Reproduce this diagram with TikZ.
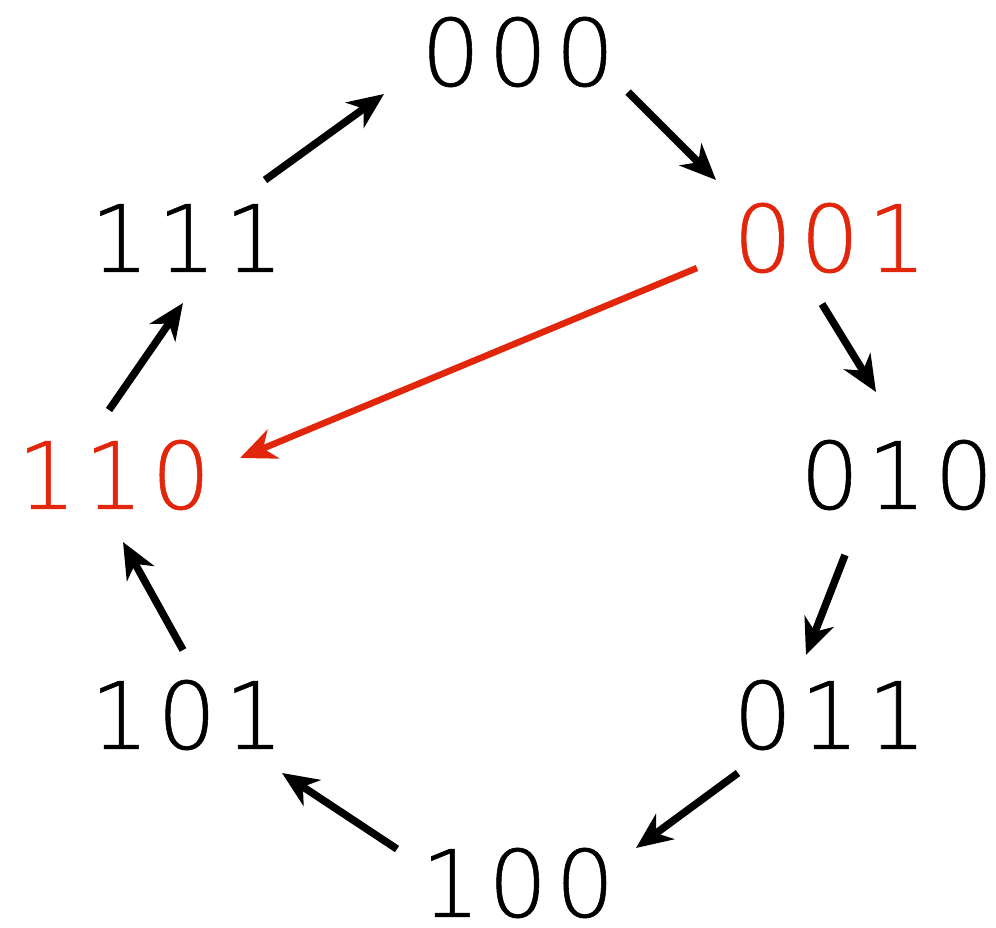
\documentclass[tikz,border=0pt]{standalone}
\usepackage{fontspec}
\newfontfamily\bitfont[LetterSpace=8.6,FakeBold=0.6]{DejaVu Sans ExtraLight}
\usetikzlibrary{arrows.meta}
\definecolor{hl}{RGB}{226,38,12}
\tikzset{
  bits/.style={inner sep=0pt, font=\bitfont\fontsize{93}{100}\selectfont},
  conn/.style={line width=7.5pt, -{Stealth[length=36pt,width=31pt,inset=11pt]}},
}
\begin{document}
\begin{tikzpicture}[x=1pt,y=-1pt]
\useasboundingbox (0,0) rectangle (996,927);
\node[bits] (n000) at (518,52) {000};
\node[bits,text=hl] (n001) at (830,238) {001};
\node[bits] (n010) at (897,475) {010};
\node[bits] (n011) at (830,715) {011};
\node[bits] (n100) at (518,883) {100};
\node[bits] (n101) at (187,715) {101};
\node[bits,text=hl] (n110) at (114,475) {110};
\node[bits] (n111) at (187,238) {111};
\coordinate (a1s) at (628,92);  \coordinate (a1e) at (716,180);
\coordinate (a2s) at (822,304); \coordinate (a2e) at (876,392);
\coordinate (a3s) at (845,555); \coordinate (a3e) at (806,655);
\coordinate (a4s) at (738,773); \coordinate (a4e) at (636,848);
\coordinate (a5s) at (397,849); \coordinate (a5e) at (282,773);
\coordinate (a6s) at (183,650); \coordinate (a6e) at (123,542);
\coordinate (a7s) at (109,410); \coordinate (a7e) at (183,303);
\coordinate (a8s) at (265,180); \coordinate (a8e) at (384,94);
\coordinate (a9s) at (697,268); \coordinate (a9e) at (240,458);
\draw[conn] (a1s) -- (a1e);
\draw[conn] (a2s) -- (a2e);
\draw[conn] (a3s) -- (a3e);
\draw[conn] (a4s) -- (a4e);
\draw[conn] (a5s) -- (a5e);
\draw[conn] (a6s) -- (a6e);
\draw[conn] (a7s) -- (a7e);
\draw[conn] (a8s) -- (a8e);
\draw[conn,draw=hl,fill=hl,line width=6.5pt] (a9s) -- (a9e);
\end{tikzpicture}
\end{document}
